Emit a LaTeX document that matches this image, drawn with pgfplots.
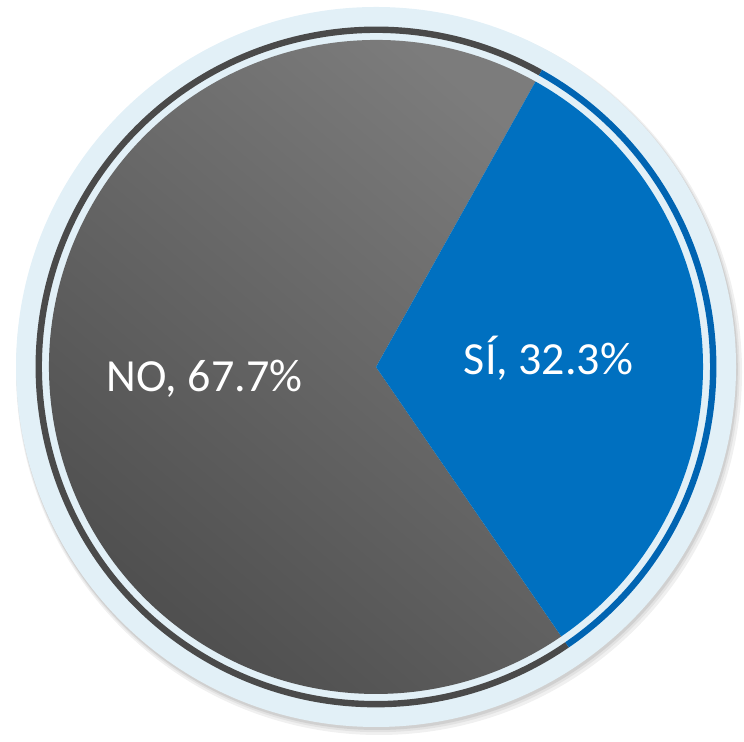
\documentclass[border=0pt]{standalone}
\usepackage{fontspec}
\setmainfont{Carlito}
\usepackage{pgfplots}
\usepackage{pgfplotstable}
\pgfplotsset{compat=1.18}
\definecolor{halo}{HTML}{E2F0F7}
\definecolor{ringgray}{HTML}{4A4A4A}
\definecolor{ringblue}{HTML}{0064B2}
\definecolor{fillblue}{HTML}{0070C0}
\definecolor{graytop}{HTML}{7C7C7C}
\definecolor{graybot}{HTML}{4C4C4C}
\pgfplotstableread{
label value
NO 67.7
SI 32.3
}\piedata
\begin{document}%
\begin{tikzpicture}
\pgfplotstablegetelem{0}{value}\of\piedata \let\vNO\pgfplotsretval
\pgfplotstablegetelem{1}{value}\of\piedata \let\vSI\pgfplotsretval
\pgfmathsetmacro\aStart{60.8}
\pgfmathsetmacro\aSI{\aStart-\vSI*3.6}
\pgfmathsetmacro\aNO{\aStart+\vNO*3.6}
\begin{axis}[x=0.5pt,y=0.5pt,xmin=0,xmax=744,ymin=0,ymax=742,
  hide axis, scale only axis, clip=false, enlargelimits=false]
\addplot[draw=none] coordinates {(0,0) (744,742)};
\coordinate (BL) at (axis cs:0,0);
\coordinate (TR) at (axis cs:744,742);
\coordinate (C) at (axis cs:376,375);
% soft shadow
\fill[black, opacity=0.06] ([shift={(1.5pt,-2.5pt)}]C) circle[radius=181.5pt];
\fill[black, opacity=0.06] ([shift={(1pt,-1.8pt)}]C) circle[radius=180.8pt];
\fill[black, opacity=0.08] ([shift={(0.6pt,-1.2pt)}]C) circle[radius=180.3pt];
% halo
\fill[halo] (C) circle[radius=180pt];
% rings
\draw[ringgray, line width=3.2pt] ([shift={(\aStart:168.6pt)}]C) arc[start angle=\aStart, end angle=\aNO, radius=168.6pt];
\draw[ringblue, line width=3.2pt] ([shift={(\aSI:168.6pt)}]C) arc[start angle=\aSI, end angle=\aStart, radius=168.6pt];
% slices
\shade[top color=graytop, bottom color=graybot, shading angle=-40] (C) -- ([shift={(\aStart:163.5pt)}]C) arc[start angle=\aStart, end angle=\aNO, radius=163.5pt] -- cycle;
\fill[fillblue] (C) -- ([shift={(\aSI:163.5pt)}]C) arc[start angle=\aSI, end angle=\aStart, radius=163.5pt] -- cycle;
% labels
\node[white, font=\fontsize{23}{27}\selectfont, anchor=base] at (axis cs:204.5,350) {NO, \vNO\%};
\node[white, font=\fontsize{23}{27}\selectfont, anchor=base] at (axis cs:548.5,367) {SÍ, \vSI\%};
\end{axis}
\pgfresetboundingbox
\path[use as bounding box] (BL) rectangle (TR);
\end{tikzpicture}%
\end{document}
